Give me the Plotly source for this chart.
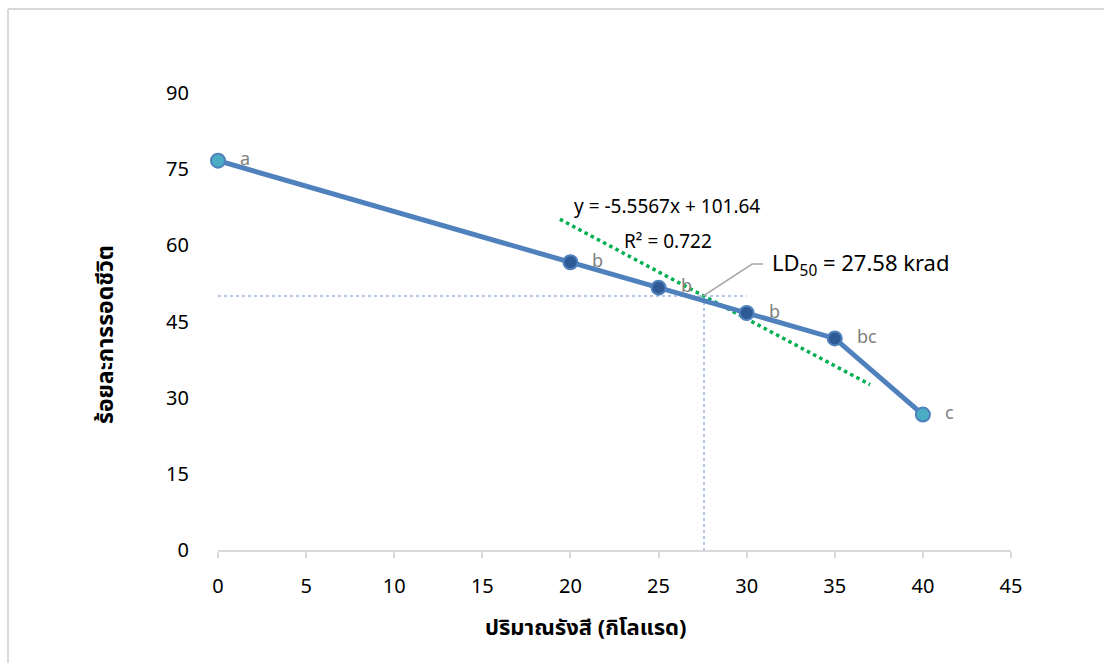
import plotly.graph_objects as go

# Survival percentage versus radiation dose
dose = [0, 20, 25, 30, 35, 40]
survival = [76.67, 56.67, 51.67, 46.67, 41.67, 26.67]
groups = ["a", "b", "b", "b", "bc", "c"]
marker_fill = ["#4bacc6", "#2f5b94", "#2f5b94", "#2f5b94", "#2f5b94", "#4bacc6"]

# Linear trend segment through the LD50 point
trend_x = [19.4, 37.0]
ld50_dose = 27.58
ld50_level = 50
trend_slope = -1.85
trend_y = [ld50_level + trend_slope * (x - ld50_dose) for x in trend_x]

x_ticks = [0, 5, 10, 15, 20, 25, 30, 35, 40, 45]
y_ticks = [0, 15, 30, 45, 60, 75, 90]

font_main = "Tahoma, 'Noto Sans Thai', 'Noto Sans', sans-serif"

fig = go.Figure()

# LD50 guide lines
fig.add_trace(go.Scatter(
    x=[0, 30], y=[ld50_level, ld50_level], mode="lines",
    line=dict(color="#b4c7e7", width=2, dash="dot"),
    hoverinfo="skip", showlegend=False))
fig.add_trace(go.Scatter(
    x=[ld50_dose, ld50_dose], y=[ld50_level, 0], mode="lines",
    line=dict(color="#b4c7e7", width=2, dash="dot"),
    hoverinfo="skip", showlegend=False))

# Trendline
fig.add_trace(go.Scatter(
    x=trend_x, y=trend_y, mode="lines",
    line=dict(color="#00b050", width=3.5, dash="dot"),
    hoverinfo="skip", showlegend=False))

# Main series
fig.add_trace(go.Scatter(
    x=dose, y=survival, mode="lines+markers",
    line=dict(color="#4f81bd", width=5),
    marker=dict(size=14, color=marker_fill, line=dict(color="#4f81bd", width=2)),
    cliponaxis=False, showlegend=False))

# Significance group letters beside each point
for xv, yv, g in zip(dose, survival, groups):
    fig.add_annotation(x=xv, y=yv, xref="x", yref="y", text=g,
                       showarrow=False, xanchor="left", yanchor="middle",
                       xshift=20, yshift=1,
                       font=dict(size=18, color="#7f7f7f", family=font_main))

fig.add_annotation(x=20.09, y=67.5, xref="x", yref="y", text="y = -5.5567x + 101.64",
                   showarrow=False, xanchor="left", yanchor="middle",
                   font=dict(size=19, color="#000000", family=font_main))
fig.add_annotation(x=22.93, y=60.65, xref="x", yref="y", text="R² = 0.722",
                   showarrow=False, xanchor="left", yanchor="middle",
                   font=dict(size=19, color="#000000", family=font_main))

# LD50 callout with leader line
fig.add_annotation(x=31.33, y=56.1, xref="x", yref="y",
                   text="LD<sub>50</sub> = 27.58 krad",
                   showarrow=False, xanchor="left", yanchor="middle",
                   font=dict(size=22, color="#000000", family=font_main))
fig.add_trace(go.Scatter(
    x=[27.52, 30.31, 30.93], y=[50.0, 56.3, 56.3], mode="lines",
    line=dict(color="#a6a6a6", width=1.5),
    hoverinfo="skip", showlegend=False))

# Axis titles
fig.add_annotation(x=0.464, y=-0.1707, xref="paper", yref="paper",
                   text="<b>ปริมาณรังสี (กิโลแรด)</b>", showarrow=False,
                   xanchor="center", yanchor="middle",
                   font=dict(size=22, color="#000000", family=font_main))
fig.add_annotation(x=-0.1412, y=0.4705, xref="paper", yref="paper",
                   text="<b>ร้อยละการรอดชีวิต</b>", showarrow=False, textangle=-90,
                   xanchor="center", yanchor="middle",
                   font=dict(size=23, color="#000000", family=font_main))

# Outer chart frame (top and left edges)
fig.add_shape(type="line", xref="paper", yref="paper",
              x0=-0.2648, x1=1.1173, y0=1.1838, y1=1.1838,
              line=dict(color="#d9d9d9", width=2))
fig.add_shape(type="line", xref="paper", yref="paper",
              x0=-0.2648, x1=-0.2648, y0=1.1838, y1=-0.2473,
              line=dict(color="#d9d9d9", width=2))

fig.update_layout(
    width=1104, height=663,
    margin=dict(l=218, r=93, t=93, b=113),
    paper_bgcolor="white", plot_bgcolor="white",
    font=dict(family=font_main, size=20, color="#000000"),
    xaxis=dict(range=[0, 45], tickvals=x_ticks, showgrid=False, zeroline=False,
               showline=True, linecolor="#d9d9d9", linewidth=1.5,
               ticks="outside", tickcolor="#d9d9d9", ticklen=6, tickwidth=1.5,
               tickfont=dict(size=20, family=font_main), ticklabelstandoff=11),
    yaxis=dict(range=[0, 90], tickvals=y_ticks, showgrid=False, zeroline=False,
               showline=False, ticks="", ticklabelstandoff=28,
               tickfont=dict(size=20, family=font_main)),
)

fig.write_html("out.html")
